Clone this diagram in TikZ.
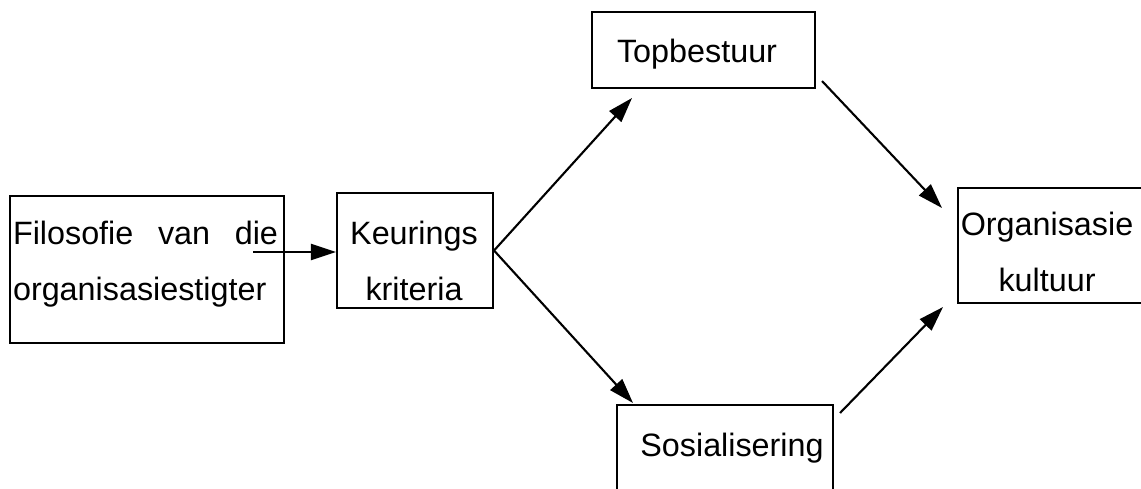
\documentclass[tikz,border=0pt]{standalone}
\usepackage{fontspec}
\setmainfont{Liberation Sans}
\usetikzlibrary{arrows.meta}

\tikzset{
  box/.style={shape=rectangle,draw=black,line width=1.2pt,inner sep=0pt},
  boxtext/.style={inner sep=0pt,font=\fontsize{18.4pt}{31.8pt}\selectfont},
  link/.style={draw=black,line width=1.2pt,-{Triangle[length=5mm,width=3.2mm]}}
}

\begin{document}
\begin{tikzpicture}[x=0.02cm,y=-0.02cm]
\useasboundingbox (0,0) rectangle (1141,488);
\clip (0,0) rectangle (1141,488);

\node[box,minimum width=5.48cm,minimum height=2.94cm](filo) at (147,269.5) {};
\node[box,minimum width=3.12cm,minimum height=2.3cm](keur) at (415,250.5) {};
\node[box,minimum width=4.46cm,minimum height=1.52cm](top) at (703.5,50) {};
\node[box,minimum width=4.32cm,minimum height=2.1cm](sos) at (725,457.5) {};
\node[box,minimum width=4.24cm,minimum height=2.3cm](org) at (1064,245.5) {};

\node[boxtext,text width=5.3cm,align=left] at (145.5,264.5) {\makebox[5.3cm][l]{Filosofie\hfill van\hfill die}\\organisasiestigter};
\node[boxtext,align=center] at (414,260.8) {Keurings\\kriteria};
\node[boxtext] at (697,54.6) {Topbestuur};
\node[boxtext] at (732,448) {Sosialisering};
\node[boxtext,align=center] at (1047,251.7) {Organisasie\\kultuur};

%
\coordinate (filoout) at (253,252);
\coordinate (toptip) at (632,98);
\coordinate (sostip) at (633,403);
\coordinate (topout) at (822,81);
\coordinate (orgtip1) at (942,208);
\coordinate (sosout) at (840,413);
\coordinate (orgtip2) at (943,307);

\path (filoout) edge[link] (filoout -| keur.west);
\path (keur.east) edge[link] (toptip);
\path (keur.east) edge[link] (sostip);
\path (topout) edge[link] (orgtip1);
\path (sosout) edge[link] (orgtip2);
\end{tikzpicture}
\end{document}
